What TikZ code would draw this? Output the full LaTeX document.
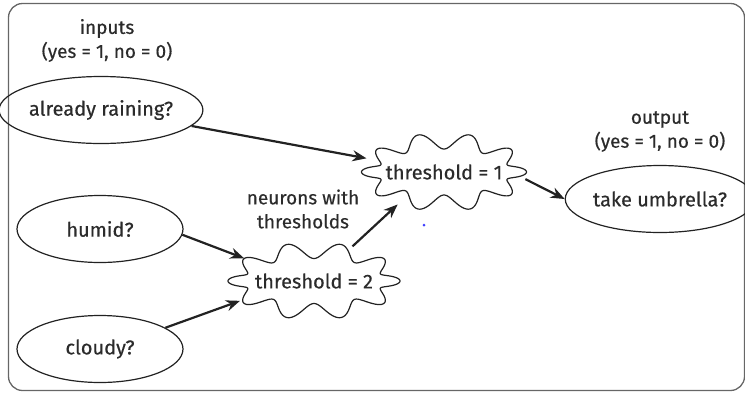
\documentclass[tikz,border=0pt]{standalone}
\usepackage{fontspec}
\setmainfont{Fira Sans}
\newfontfamily\medfont{Fira Sans}[FakeBold=0.4]
\usetikzlibrary{shapes.geometric,arrows.meta}
\definecolor{txt}{HTML}{2B2B2B}
\definecolor{ln}{HTML}{222222}
\definecolor{frm}{HTML}{666666}
\newcommand\wavyoutline[5]{%
  \draw[cloudline] plot[domain=0:360,samples=361]
    ({#1+(#3+#5*cos(10*\x))*cos(\x)},{#2+(#4+#5*cos(10*\x))*sin(\x)}) -- cycle;}
\begin{document}
\begin{tikzpicture}[x=1pt,y=-1pt,
  question/.style={ellipse,draw=ln,line width=1.2pt,inner sep=0pt,
    minimum width=166pt,minimum height=67pt,
    font=\medfont\fontsize{20}{23}\selectfont,text=txt},
  neuron/.style={ellipse,inner sep=0pt,font=\medfont\fontsize{20}{23}\selectfont,text=txt},
  cloudline/.style={draw=ln,line width=1.2pt},
  caption/.style={align=center,font=\medfont\fontsize{19}{24}\selectfont,text=txt},
  arr/.style={draw=ln,line width=2.2pt,-{Stealth[length=14pt,width=11pt]}},
]
\useasboundingbox (0,0) rectangle (745,392);
\draw[frm,line width=1.3pt,rounded corners=14pt] (8.5,3.5) rectangle (744.5,390.5);

\node[caption] (inlbl) at (107,40.5) {inputs\\(yes = 1, no = 0)};
\node[caption] (outlbl) at (660,131.5) {output\\(yes = 1, no = 0)};
\node[caption] (nlbl) at (303,209) {neurons with\\thresholds};

\node[question,minimum width=168pt] (rain) at (101,110) {already raining?};
\node[question] (humid) at (100,229) {humid?};
\node[question] (cloudy) at (100,349) {cloudy?};
\node[question,minimum width=165pt] (umb) at (660,199) {take umbrella?};

\node[neuron,minimum width=165pt,minimum height=78pt] (t1) at (444,172) {threshold = 1};
\wavyoutline{444}{172}{74.5}{31}{8}
\node[neuron,minimum width=172pt,minimum height=77pt] (t2) at (314,281) {threshold = 2};
\wavyoutline{314}{281}{78}{30.5}{8}

\draw[arr] (rain.-10) -- (t1.170);
\draw[arr] (humid.-4) -- (t2.162);
\draw[arr] (cloudy.18) -- (t2.195);
\draw[arr] (t2.42) -- (t1.215);
\draw[arr] (t1.-5) -- (umb.west);

\fill[blue!75!white] (424,225) circle (1.5);
\end{tikzpicture}
\end{document}
